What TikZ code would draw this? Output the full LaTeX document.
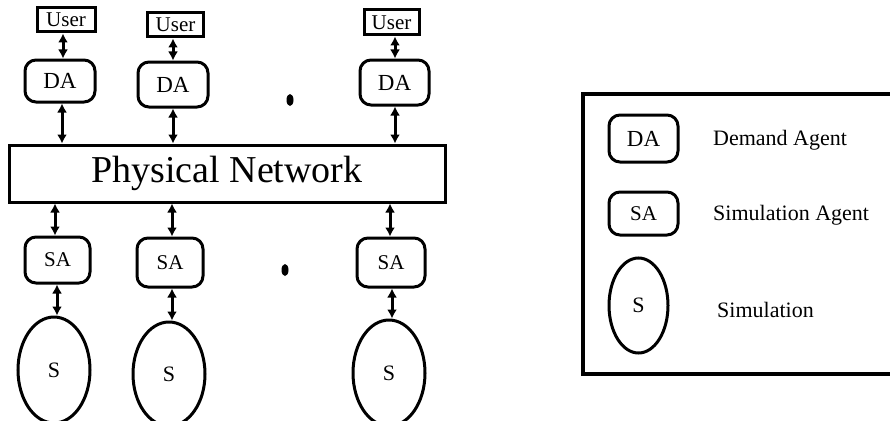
\documentclass[tikz,border=0pt]{standalone}
\usepackage{fontspec}
\setmainfont{Liberation Serif}
\usetikzlibrary{arrows.meta,shapes.geometric}
\tikzset{
  userbox/.style={draw,line width=3pt,inner sep=0pt,font=\fontsize{21}{23}\selectfont},
  agentbox/.style={draw,line width=3pt,rounded corners=11pt,inner sep=0pt,font=\fontsize{23}{25}\selectfont},
  simnode/.style={draw,ellipse,line width=3pt,inner sep=0pt,font=\fontsize{22}{24}\selectfont},
  netbox/.style={draw,line width=3pt,inner sep=0pt,font=\fontsize{38}{40}\selectfont},
  biarrow/.style={line width=3pt,{Latex[length=9pt,width=10pt]}-{Latex[length=9pt,width=10pt]}},
  legtext/.style={anchor=west,inner sep=0pt,font=\fontsize{22}{24}\selectfont},
  dotnode/.style={fill,ellipse,inner sep=0pt,minimum width=7pt,minimum height=12pt}
}
\begin{document}
\begin{tikzpicture}[x=1pt,y=-1pt]
\useasboundingbox (0,0) rectangle (890,420);
\clip (0,0) rectangle (890,420);
% columns
\coordinate (a1) at (63,0);  \coordinate (b1) at (62,0);  \coordinate (c1) at (55,0);  \coordinate (d1) at (57,0);
\coordinate (a2) at (173,0); \coordinate (b2) at (173,0); \coordinate (c2) at (172,0); \coordinate (d2) at (172,0);
\coordinate (a3) at (395,0); \coordinate (b3) at (395,0); \coordinate (c3) at (390,0); \coordinate (d3) at (392,0);
% users
\node[userbox,minimum width=58pt,minimum height=24pt] (U1) at (66,20) {User};
\node[userbox,minimum width=56pt,minimum height=24pt] (U2) at (175.5,25) {User};
\node[userbox,minimum width=55pt,minimum height=25pt] (U3) at (391.5,22.5) {User};
% demand agents
\node[agentbox,minimum width=70pt,minimum height=42pt] (DA1) at (60,81) {DA};
\node[agentbox,minimum width=70pt,minimum height=45pt] (DA2) at (173,84.5) {DA};
\node[agentbox,minimum width=69pt,minimum height=45pt] (DA3) at (394.5,82.5) {DA};
\node[dotnode] (dot1) at (290,100) {};
% network
\node[netbox,minimum width=436pt,minimum height=57pt] (PN) at (227,173.5) {Physical Network};
% simulation agents
\node[agentbox,minimum width=65pt,minimum height=46pt,font=\fontsize{21}{23}\selectfont] (SA1) at (57.5,260) {SA};
\node[agentbox,minimum width=66pt,minimum height=49pt,font=\fontsize{21}{23}\selectfont] (SA2) at (170,262.5) {SA};
\node[agentbox,minimum width=68pt,minimum height=49pt,font=\fontsize{21}{23}\selectfont] (SA3) at (391,262.5) {SA};
\node[dotnode] (dot2) at (285,270) {};
% simulations
\node[simnode,minimum width=72pt,minimum height=106pt] (S1) at (54,370) {S};
\node[simnode,minimum width=72pt,minimum height=104pt] (S2) at (169,374) {S};
\node[simnode,minimum width=72pt,minimum height=106pt] (S3) at (389,373) {S};
% arrows
\draw[biarrow] (U1.south -| a1) -- (DA1.north -| a1);
\draw[biarrow] (U2.south -| a2) -- (DA2.north -| a2);
\draw[biarrow] (U3.south -| a3) -- (DA3.north -| a3);
\draw[biarrow] (DA1.south -| b1) -- (PN.north -| b1);
\draw[biarrow] (DA2.south -| b2) -- (PN.north -| b2);
\draw[biarrow] (DA3.south -| b3) -- (PN.north -| b3);
\draw[biarrow] (PN.south -| c1) -- (SA1.north -| c1);
\draw[biarrow] (PN.south -| c2) -- (SA2.north -| c2);
\draw[biarrow] (PN.south -| c3) -- (SA3.north -| c3);
\draw[biarrow] (SA1.south -| d1) -- (S1.north -| d1);
\draw[biarrow] (SA2.south -| d2) -- (S2.north -| d2);
\draw[biarrow] (SA3.south -| d3) -- (S3.north -| d3);
% legend
\draw[line width=3.6pt] (583,94) rectangle (905,374);
\node[agentbox,minimum width=69pt,minimum height=47pt] (LDA) at (643.5,138.5) {DA};
\node[agentbox,minimum width=69pt,minimum height=43pt,font=\fontsize{21}{23}\selectfont] (LSA) at (643.5,213.5) {SA};
\node[simnode,minimum width=59pt,minimum height=95pt] (LS) at (638.5,305.5) {S};
\node[legtext] (tDA) at (713,140) {Demand Agent};
\node[legtext] (tSA) at (713,215) {Simulation Agent};
\node[legtext] (tS) at (717,310) {Simulation};
\end{tikzpicture}
\end{document}
